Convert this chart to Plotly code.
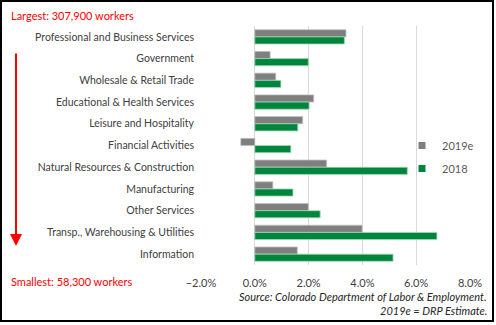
import plotly.graph_objects as go

categories = ["Professional and Business Services", "Government", "Wholesale & Retail Trade",
              "Educational & Health Services", "Leisure and Hospitality", "Financial Activities",
              "Natural Resources & Construction", "Manufacturing", "Other Services",
              "Transp., Warehousing & Utilities", "Information"]
v2019e = [0.0339, 0.0057, 0.0078, 0.0219, 0.0178, -0.0052, 0.0267, 0.0067, 0.0199, 0.0399, 0.0158]
v2018 = [0.0333, 0.0199, 0.0097, 0.0202, 0.0160, 0.0134, 0.0567, 0.0142, 0.0243, 0.0677, 0.0514]
series_names = ["2019e", "2018"]
tickvals = [-0.02, 0.0, 0.02, 0.04, 0.06, 0.08]

L, R, T, B = 201, 470, 26, 265
W, H = 496, 325
def px(x):
    return (x - L) / (R - L)
def py(y):
    return (B - y) / (B - T)

FONT = "Lato"
colors = ["#7f7f7f", "#00853e"]
edges = ["#c0c0c0", "#a8d8b4"]
fig = go.Figure()
for name, vals, c, e in zip(series_names, [v2019e, v2018], colors, edges):
    fig.add_trace(go.Bar(y=categories, x=vals, name=name, orientation="h", showlegend=False,
                         legendgroup=name, marker=dict(color=c, line=dict(color=e, width=0.8))))
for name, c in zip(series_names, colors):
    fig.add_trace(go.Scatter(x=[None], y=[None], mode="markers", name=name, legendgroup=name,
                             marker=dict(symbol="square", size=7, color=c)))

fig.update_layout(
    width=W, height=H, margin=dict(l=L, r=W - R, t=T, b=H - B, autoexpand=False),
    paper_bgcolor="white", plot_bgcolor="white",
    barmode="group", bargap=0.34, bargroupgap=0.0,
    font=dict(family=FONT, size=11, color="#404040"),
    showlegend=True,
    legend=dict(x=px(402), y=py(157), xanchor="left", yanchor="middle",
                font=dict(size=11, color="#595959"), bgcolor="rgba(0,0,0,0)",
                itemwidth=30, tracegroupgap=4),
    xaxis=dict(range=[-0.02, 0.08], tickvals=tickvals, tickformat=".1%",
               showgrid=True, gridcolor="#d9d9d9", gridwidth=1, zeroline=False,
               showline=False, ticks="", ticklabelstandoff=10,
               tickfont=dict(size=11, color="#404040")),
    yaxis=dict(autorange="reversed", showgrid=False, ticks="", ticklen=0,
               ticklabelstandoff=6, tickfont=dict(size=10.5, color="#404040")),
)

fig.add_annotation(xref="paper", yref="paper", x=px(9), y=py(15), xanchor="left", yanchor="middle",
                   text="Largest: 307,900 workers", showarrow=False,
                   font=dict(size=11, color="#ff0000", family=FONT))
fig.add_annotation(xref="paper", yref="paper", x=px(9), y=py(281), xanchor="left", yanchor="middle",
                   text="Smallest: 58,300 workers", showarrow=False,
                   font=dict(size=11, color="#ff0000", family=FONT))
fig.add_annotation(xref="paper", yref="paper", x=px(489), y=py(296), xanchor="right", yanchor="middle",
                   text="<i>Source: Colorado Department of Labor & Employment.</i>", showarrow=False,
                   font=dict(size=11, color="#262626", family=FONT))
fig.add_annotation(xref="paper", yref="paper", x=px(489), y=py(310), xanchor="right", yanchor="middle",
                   text="<i>2019e = DRP Estimate.</i>", showarrow=False,
                   font=dict(size=11, color="#262626", family=FONT))
fig.add_annotation(xref="paper", yref="paper", x=px(16), y=py(246), axref="pixel", ayref="pixel",
                   ax=0, ay=-194, text="", showarrow=True, arrowhead=2, arrowsize=1.2,
                   arrowwidth=2, arrowcolor="#ff0000")
fig.add_shape(type="rect", xref="paper", yref="paper", x0=px(1), x1=px(493), y0=py(1), y1=py(321),
              line=dict(color="black", width=2), layer="above")

fig.write_html("out.html")
